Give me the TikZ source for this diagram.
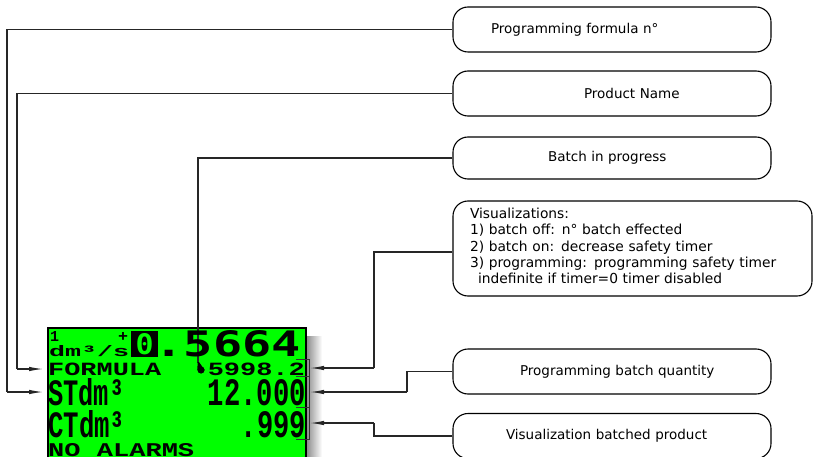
\documentclass[tikz,border=0pt]{standalone}
\usepackage{fontspec}
\setmainfont{DejaVu Sans}
\newfontfamily\lcdfont{Liberation Mono}
\newfontfamily\lcdbig{DejaVu Sans Mono}
\usetikzlibrary{arrows.meta}
\definecolor{lcdgreen}{RGB}{0,255,0}
\tikzset{
  box/.style={draw=black, line width=1.1pt, rounded corners=15pt,
    minimum width=318pt, minimum height=45pt, text width=300pt,
    inner xsep=9pt, inner ysep=0pt, align=left,
    font=\fontsize{13.5}{16.3}\selectfont},
  conn/.style={draw=black!85, line width=1.1pt},
  arr/.style={conn, -{Latex[length=14pt,width=4.5pt]}},
  lcdtxt/.style={inner sep=0pt, text=black},
  brk/.style={draw=black!80, line width=0.8pt},
}
\begin{document}
\begin{tikzpicture}[x=1pt,y=-1pt]
\fill[white] (0,0) rectangle (813,457);
\useasboundingbox (0,0) rectangle (813,457);

% ---- callout boxes ----
\node[box] (b1) at (612,29.5) {\hspace*{29pt}Programming formula n°};
\node[box] (b2) at (612,93.5) {\hspace*{122pt}Product Name};
\node[box, minimum height=42pt] (b3) at (612,158) {\hspace*{86pt}Batch in progress};
\node[box, minimum width=359pt, text width=341pt, minimum height=95pt,
      font=\fontsize{13.8}{16.3}\selectfont] (b4) at (632.5,248.5)
  {\hspace*{8pt}Visualizations:\\
   \hspace*{8pt}1) batch off: n° batch effected\\
   \hspace*{8pt}2) batch on: decrease safety timer\\
   \hspace*{8pt}3) programming: programming safety timer\\
   \hspace*{16pt}indefinite if timer=0 timer disabled\vspace*{5pt}};
\node[box] (b5) at (612,371.5) {\hspace*{58pt}Programming batch quantity};
\node[box] (b6) at (612,436) {\hspace*{44pt}Visualization batched product};

% ---- LCD display ----
\shade[left color=black!45, right color=white] (306.5,336) rectangle (322,457);
\filldraw[fill=lcdgreen, draw=black, line width=1.2pt] (48,328) rectangle (306,462);

% connector from "Batch in progress" down to the marker
\coordinate (drop) at (198,363);
\draw[conn] (b3.west) -| (drop);
\fill[black] (201,370) circle[radius=3.6];
\fill[black] (197.6,362) -- (199,362) -- (204.6,370) -- (197.4,370) -- cycle;

\node[lcdtxt, anchor=base west] (one) at (50,341) {\resizebox{9pt}{10pt}{\lcdfont\bfseries 1}};
\node[lcdtxt, anchor=base west] (unit) at (49,356.5) {\resizebox{80pt}{11pt}{\lcdfont\bfseries dm³/s}};
\node[lcdtxt, anchor=base west] (plus) at (118,341) {\resizebox{10pt}{9pt}{\lcdfont\bfseries +}};
\fill[black] (131,331) rectangle (158,357);
\node[lcdtxt, text=lcdgreen] (zero) at (144.5,344) {\resizebox{18pt}{21pt}{\lcdbig\bfseries 0}};
\node[lcdtxt, anchor=base east] (big) at (301,356.5) {\resizebox{146pt}{26pt}{\lcdbig\bfseries .5664}};

\node[lcdtxt, anchor=base west] (formula) at (48,375) {\resizebox{113pt}{12.5pt}{\lcdfont\bfseries FORMULA}};
\node[lcdtxt, anchor=base east] (num1) at (305,375) {\resizebox{97pt}{12.5pt}{\lcdfont\bfseries 5998.2}};
\node[lcdtxt, anchor=base west] (st) at (48,405) {\resizebox{76pt}{27pt}{\lcdfont\bfseries STdm³}};
\node[lcdtxt, anchor=base east] (num2) at (306,405) {\resizebox{98pt}{26pt}{\lcdfont\bfseries 12.000}};
\node[lcdtxt, anchor=base west] (ct) at (48,437) {\resizebox{77pt}{27pt}{\lcdfont\bfseries CTdm³}};
\node[lcdtxt, anchor=base east] (num3) at (306,437) {\resizebox{65pt}{26pt}{\lcdfont\bfseries .999}};
\node[lcdtxt, anchor=base west] (alarm) at (48,456) {\resizebox{146pt}{13pt}{\lcdfont\bfseries NO ALARMS}};

% brackets on the right of the display
\draw[brk] (296,359) -- (309,359) -- (309,439) -- (296,439);
\draw[brk] (296,376) -- (309,376);
\draw[brk] (296,407) -- (309,407);

% ---- connectors ----
\coordinate (k1) at (7,392);   \coordinate (t1) at (43,392);
\coordinate (k2) at (17,369);  \coordinate (t2) at (43,369);
\draw[conn] (b1.west) -| (k1);
\draw[arr] (k1) -- (t1);
\draw[conn] (b2.west) -| (k2);
\draw[arr] (k2) -- (t2);

\coordinate (b4w) at (b4.west |- 0,252);
\coordinate (k4) at (374,368); \coordinate (t4) at (310,368);
\draw[conn] (b4w) -| (k4);
\draw[arr] (k4) -- (t4);

\coordinate (k5) at (407,392); \coordinate (t5) at (310,392);
\draw[conn] (b5.west) -| (k5);
\draw[arr] (k5) -- (t5);

\coordinate (k6) at (374,423); \coordinate (t6) at (310,423);
\draw[conn] (b6.west) -| (k6);
\draw[arr] (k6) -- (t6);
\end{tikzpicture}
\end{document}
